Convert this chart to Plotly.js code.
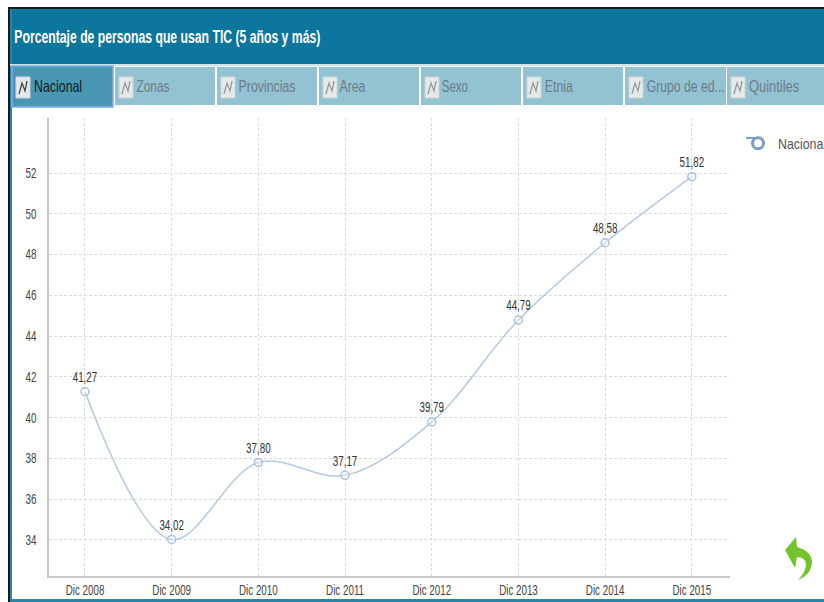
<!DOCTYPE html>
<html><head><meta charset="utf-8">
<script src="https://cdn.plot.ly/plotly-3.0.1.min.js"></script>
<style>html,body{margin:0;padding:0;background:#fff;overflow:hidden}</style>
</head><body><div id="c" style="width:824px;height:602px"></div>
<script>
const categories=["Dic 2008","Dic 2009","Dic 2010","Dic 2011","Dic 2012","Dic 2013","Dic 2014","Dic 2015"];
const nacional=[41.27,34.02,37.80,37.17,39.79,44.79,48.58,51.82];
const yTicks=[34,36,38,40,42,44,46,48,50,52];
const tabNames=["Nacional","Zonas","Provincias","Area","Sexo","Etnia","Grupo de ed...","Quintiles"];
const chartTitle="Porcentaje de personas que usan TIC (5 años y más)";
const seriesName="Nacional";

const W=824,H=602,L=49,R=730,T=118,B=576;
const px=x=>(x-L)/(R-L), py=y=>(B-y)/(B-T);
const P=(x,y)=>px(x)+","+py(y);
const FONT="Liberation Sans, Arial, sans-serif";
const rect=(x0,y0,x1,y1,fill,line,lw)=>({type:"rect",xref:"paper",yref:"paper",layer:"below",x0:px(x0),x1:px(x1),y0:py(y1),y1:py(y0),fillcolor:fill,line:{color:line||fill,width:lw===undefined?0:lw}});
const path=(d,fill,line,lw)=>({type:"path",xref:"paper",yref:"paper",layer:"above",path:d,fillcolor:fill,line:{color:line||fill,width:lw||0}});

const shapes=[
 rect(8,7,824,9,"#1a1a1a"),
 rect(8,7,10,602,"#1a1a1a"),
 rect(10,9,824,64,"#0c769c"),
 rect(10,9,12,602,"#2a86a8"),
 rect(10,599,824,602,"#2a86a8"),
 rect(10,64,824,66,"#cfe3ea")
];
// pixel widths and centres of the narrow header texts
const fitWidth={};
fitWidth[chartTitle]=306;
const annotations=[
 {xref:"paper",yref:"paper",x:px(167),y:py(37),text:"<b>"+chartTitle+"</b>",showarrow:false,xanchor:"center",yanchor:"middle",font:{family:FONT,size:17.5,color:"#fff"}}
];
const tabX=[12,115,217,319,421,523,625,727],tabEnd=[113,215,317,419,521,623,726,824];
const tabTextX=[34,136,238,340,442,545,647,749],tabTextEnd=[82,169,295,366,468,573,725,799];
tabNames.forEach((n,i)=>{
 const a=i===0,x0=tabX[i],x1=tabEnd[i];
 shapes.push(rect(x0,a?66:67,x1,a?107:105,a?"#4a97b3":"#93c2d3",a?"#7fb0f0":"#93c2d3",a?1.5:0));
 const ix=x0+4;
 shapes.push(rect(ix,77,ix+14,98,"#e6e9ea","#cfd4d6",1));
 shapes.push(path("M"+P(ix+3,94)+"L"+P(ix+6,83)+"L"+P(ix+9,91)+"L"+P(ix+11,81),"rgba(0,0,0,0)",a?"#444":"#999",1.3));
 fitWidth[n]=tabTextEnd[i]-tabTextX[i];
 annotations.push({xref:"paper",yref:"paper",x:px((tabTextX[i]+tabTextEnd[i])/2),y:py(86),text:n,showarrow:false,xanchor:"center",yanchor:"middle",font:{family:FONT,size:16.5,color:a?"#101820":"#6b7d86"}});
});
// return arrow
shapes.push(path("M"+P(785,550)+"L"+P(796,537)+"L"+P(797,547)+"Q"+P(812,551)+" "+P(812,563)+"Q"+P(811,575)+" "+P(798,580)+"Q"+P(806,572)+" "+P(806,564)+"Q"+P(805,557)+" "+P(797,557)+"L"+P(795,568)+"Z","#72c42a"));
// legend theta bar
shapes.push({type:"line",xref:"paper",yref:"paper",x0:px(746),x1:px(760),y0:py(138),y1:py(138),line:{color:"#7f9cc8",width:2}});

const data=[
 {type:"scatter",mode:"lines+markers+text",x:categories,y:nacional,name:seriesName,showlegend:false,
  line:{shape:"spline",smoothing:1,color:"#b3cae0",width:1.5},
  marker:{symbol:"circle",size:8,color:"rgba(255,255,255,0.3)",line:{color:"#a9c2dc",width:1.5}},
  texttemplate:"%{y:.2f}",textposition:"top center",textfont:{family:FONT,size:14,color:"#333"},cliponaxis:false,hoverinfo:"x+y"},
 {type:"scatter",mode:"markers",x:[null],y:[null],name:seriesName,showlegend:true,
  marker:{symbol:"circle-open",size:11,color:"#7f9cc8",line:{color:"#7f9cc8",width:3}}}
];
const gridStyle={showgrid:true,gridcolor:"#dcdcdc",griddash:"3px,2px",gridwidth:1,zeroline:false,showline:true,linecolor:"#c8c8c8",linewidth:1.5,ticks:"",tickfont:{family:FONT,size:14,color:"#444"}};
const layout={
 width:W,height:H,margin:{l:L,r:W-R,t:T,b:H-B,pad:0,autoexpand:false},paper_bgcolor:"#fff",plot_bgcolor:"#fff",separators:",.",showlegend:true,
 legend:{xref:"container",yref:"container",x:738/W,y:1-127/H,xanchor:"left",yanchor:"top",bgcolor:"rgba(0,0,0,0)",itemwidth:30,font:{family:FONT,size:15,color:"#555"}},
 xaxis:Object.assign({},gridStyle,{type:"category",categoryorder:"array",categoryarray:categories,range:[-0.415,7.44],tickangle:0,automargin:false}),
 yaxis:Object.assign({},gridStyle,{range:[32.23,54.7],tickmode:"array",tickvals:yTicks,ticktext:yTicks.map(String),ticklabelstandoff:8,automargin:false}),
 shapes:shapes,annotations:annotations,hovermode:"closest"
};
// The reference text is horizontally squeezed: narrow the real text nodes.
function squeeze(){
 document.querySelectorAll("#c svg text").forEach(t=>{
  if(t.hasAttribute("textLength"))return;
  const s=t.textContent, n=t.getComputedTextLength();
  if(!n)return;
  const w=fitWidth[s]!==undefined?fitWidth[s]:n*(s===seriesName&&t.classList.contains("legendtext")?0.77:0.7);
  t.setAttribute("textLength",w);
  t.setAttribute("lengthAdjust","spacingAndGlyphs");
 });
}
Plotly.newPlot("c",data,layout,{displayModeBar:false,responsive:false}).then(squeeze);
</script></body></html>
